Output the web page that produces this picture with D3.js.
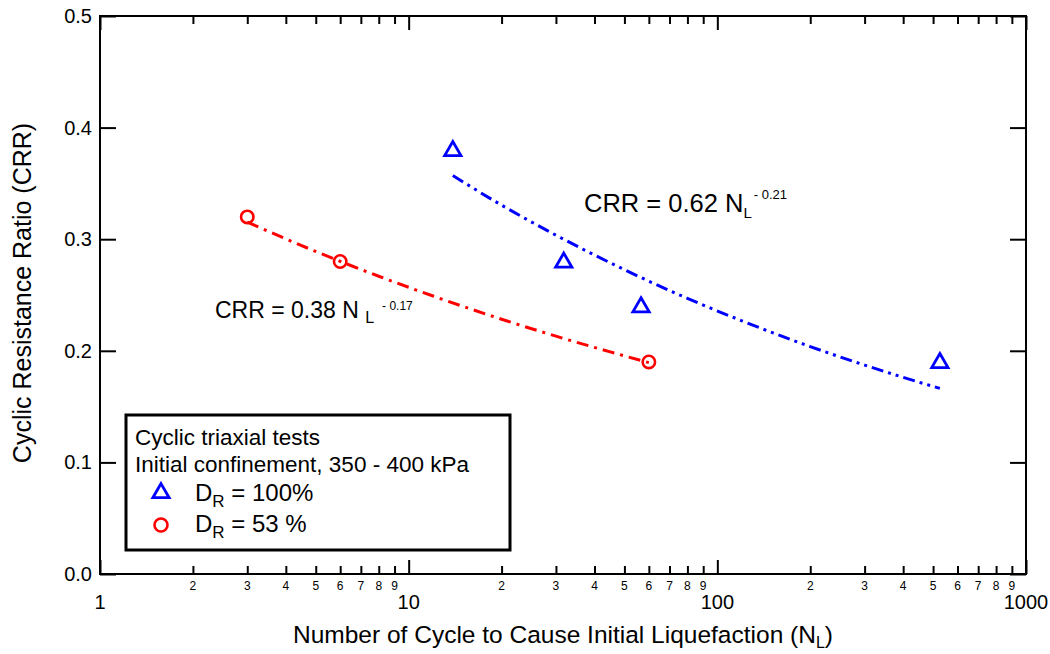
<!DOCTYPE html>
<html>
<head>
<meta charset="utf-8">
<script src="https://cdn.jsdelivr.net/npm/d3@7"></script>
<style>
  html, body { margin: 0; padding: 0; background: #fff; }
  svg text { font-family: "Liberation Sans", Arial, sans-serif; fill: #000; }
</style>
</head>
<body>
<svg id="chart" width="1050" height="654"></svg>
<script>
// ---- data ----
const blueN   = [13.9, 31.8, 56.6, 526];
const blueCRR = [0.38, 0.28, 0.24, 0.19];
const redN    = [3, 6, 60];
const redCRR  = [0.32, 0.28, 0.19];

// fitted trend lines (points along the curves drawn in the figure)
const blueFitN   = [13.9, 20, 30, 50, 80, 120, 200, 300, 400, 526];
const blueFitCRR = [0.357, 0.3305, 0.3036, 0.2727, 0.2470, 0.2269, 0.2038, 0.1872, 0.1762, 0.1663];
const redFitN    = [3, 5, 8, 12, 20, 30, 45, 60];
const redFitCRR  = [0.3153, 0.2890, 0.2668, 0.2491, 0.2283, 0.2131, 0.1990, 0.1894];

const yTicks = [0.0, 0.1, 0.2, 0.3, 0.4, 0.5];
const xMajorTicks = [1, 10, 100, 1000];
const minorDigits = [2, 3, 4, 5, 6, 7, 8, 9];

const legendTitle1 = "Cyclic triaxial tests";
const legendTitle2 = "Initial confinement, 350 - 400 kPa";
const legendBlue = "= 100%";
const legendRed = "= 53 %";

// ---- layout ----
const svg = d3.select("#chart");
const L = 100, R = 1026, T = 16, B = 574;
const x = d3.scaleLog().domain([1, 1000]).range([L, R]);
const y = d3.scaleLinear().domain([0, 0.5]).range([B, T]);

const minorTicks = [];
xMajorTicks.slice(0, -1).forEach(m => minorDigits.forEach(d => minorTicks.push(m * d)));

// axes with inward ticks
const gAx = svg.append("g").attr("stroke", "#000");
gAx.append("g").attr("transform", `translate(0,${B})`)
  .call(d3.axisTop(x).tickValues(xMajorTicks).tickSize(14).tickFormat(""))
  .call(g => g.select(".domain").remove());
gAx.append("g").attr("transform", `translate(0,${B})`)
  .call(d3.axisTop(x).tickValues(minorTicks).tickSize(8).tickFormat(""))
  .call(g => g.select(".domain").remove());
gAx.append("g").attr("transform", `translate(0,${T})`)
  .call(d3.axisBottom(x).tickValues(xMajorTicks).tickSize(14).tickFormat(""))
  .call(g => g.select(".domain").remove());
gAx.append("g").attr("transform", `translate(0,${T})`)
  .call(d3.axisBottom(x).tickValues(minorTicks).tickSize(8).tickFormat(""))
  .call(g => g.select(".domain").remove());
gAx.append("g").attr("transform", `translate(${L},0)`)
  .call(d3.axisRight(y).tickValues(yTicks).tickSize(16).tickFormat(""))
  .call(g => g.select(".domain").remove());
gAx.append("g").attr("transform", `translate(${R},0)`)
  .call(d3.axisLeft(y).tickValues(yTicks).tickSize(16).tickFormat(""))
  .call(g => g.select(".domain").remove());
svg.selectAll(".tick line").attr("stroke", "#000").attr("stroke-width", 2);

// frame
svg.append("rect").attr("x", L).attr("y", T).attr("width", R - L).attr("height", B - T)
  .attr("fill", "none").attr("stroke", "#000").attr("stroke-width", 2);

// y tick labels
svg.append("g").selectAll("text").data(yTicks).join("text")
  .attr("x", L - 8).attr("y", d => y(d)).attr("dy", "0.35em")
  .attr("text-anchor", "end").attr("font-size", 20)
  .text(d => d3.format(".1f")(d));

// x minor labels
svg.append("g").selectAll("text").data(minorTicks).join("text")
  .attr("x", d => x(d)).attr("y", 590)
  .attr("text-anchor", "middle").attr("font-size", 12)
  .text(d => String(Math.round(d / Math.pow(10, Math.floor(Math.log10(d) + 1e-9)))));
// x major labels
svg.append("g").selectAll("text").data(xMajorTicks).join("text")
  .attr("x", d => x(d)).attr("y", 609)
  .attr("text-anchor", "middle").attr("font-size", 20)
  .text(d => String(d));

// axis titles
const xt = svg.append("text").attr("x", (L + R) / 2).attr("y", 643)
  .attr("text-anchor", "middle").attr("font-size", 24.5);
xt.append("tspan").text("Number of Cycle to Cause Initial Liquefaction (N");
xt.append("tspan").attr("font-size", 16).attr("dy", 5).text("L");
xt.append("tspan").attr("dy", -5).text(")");

svg.append("text").attr("transform", `translate(31,${(T + B) / 2 - 2}) rotate(-90)`)
  .attr("text-anchor", "middle").attr("font-size", 25)
  .text("Cyclic Resistance Ratio (CRR)");

// fit lines
const line = d3.line().x(d => x(d[0])).y(d => y(d[1])).curve(d3.curveMonotoneX);
svg.append("path").datum(blueFitN.map((n, i) => [n, blueFitCRR[i]]))
  .attr("d", line).attr("fill", "none").attr("stroke", "#0000ff").attr("stroke-width", 3)
  .attr("stroke-dasharray", "12,5,3,5,3,5");
svg.append("path").datum(redFitN.map((n, i) => [n, redFitCRR[i]]))
  .attr("d", line).attr("fill", "none").attr("stroke", "#ff0000").attr("stroke-width", 3)
  .attr("stroke-dasharray", "12,6,3,6");

// markers
const tri = d3.symbol().type(d3.symbolTriangle).size(115);
svg.append("g").selectAll("path").data(blueN.map((n, i) => [n, blueCRR[i]])).join("path")
  .attr("transform", d => `translate(${x(d[0])},${y(d[1]) + 1})`)
  .attr("d", tri).attr("fill", "none").attr("stroke", "#0000ff").attr("stroke-width", 2.8);
svg.append("g").selectAll("circle").data(redN.map((n, i) => [n, redCRR[i]])).join("circle")
  .attr("cx", d => x(d[0])).attr("cy", d => y(d[1])).attr("r", 6.2)
  .attr("fill", "none").attr("stroke", "#ff0000").attr("stroke-width", 2.6);

// equations
const eb = svg.append("text").attr("x", 584).attr("y", 212).attr("font-size", 25.5);
eb.append("tspan").text("CRR = 0.62 N");
eb.append("tspan").attr("font-size", 15).attr("dy", 6).text("L");
eb.append("tspan").attr("font-size", 13).attr("dy", -19).attr("dx", 2).text("- 0.21");

const er = svg.append("text").attr("x", 215).attr("y", 318).attr("font-size", 23);
er.append("tspan").text("CRR = 0.38 N ");
er.append("tspan").attr("font-size", 16).attr("dy", 5).text("L");
er.append("tspan").attr("font-size", 12).attr("dy", -13).attr("dx", 8).text("- 0.17");

// legend
const lg = svg.append("g");
lg.append("rect").attr("x", 126).attr("y", 415).attr("width", 384).attr("height", 135)
  .attr("fill", "#fff").attr("stroke", "#000").attr("stroke-width", 3);
lg.append("text").attr("x", 135).attr("y", 445).attr("font-size", 22.5).text(legendTitle1);
lg.append("text").attr("x", 135).attr("y", 472).attr("font-size", 22.5).text(legendTitle2);
lg.append("path").attr("transform", "translate(161,493)").attr("d", tri)
  .attr("fill", "none").attr("stroke", "#0000ff").attr("stroke-width", 2.8);
lg.append("circle").attr("cx", 161).attr("cy", 525).attr("r", 6.5)
  .attr("fill", "none").attr("stroke", "#ff0000").attr("stroke-width", 2.6);
[[legendBlue, 501], [legendRed, 532]].forEach(([t, yy]) => {
  const tx = lg.append("text").attr("x", 195).attr("y", yy).attr("font-size", 24);
  tx.append("tspan").text("D");
  tx.append("tspan").attr("font-size", 17).attr("dy", 6).text("R");
  tx.append("tspan").attr("dy", -6).text(" " + t);
});
</script>
</body>
</html>
